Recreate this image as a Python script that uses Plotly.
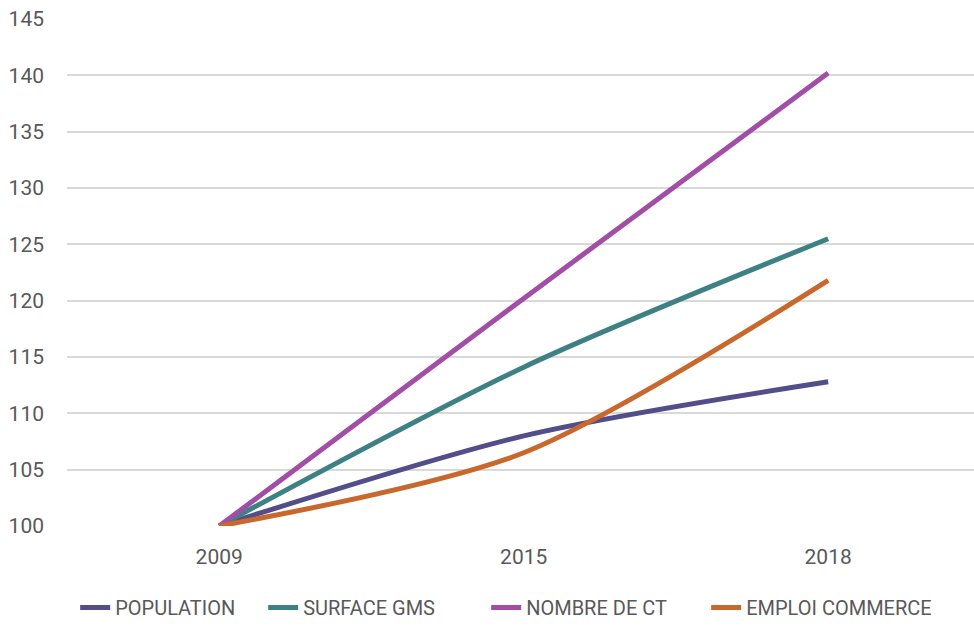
import plotly.graph_objects as go

years = ["2009", "2015", "2018"]
population = [100, 108.0, 112.8]
surface_gms = [100, 114.1, 125.5]
nombre_ct = [100, 120.2, 140.2]
emploi_commerce = [100, 106.5, 121.8]

series = [
    ("POPULATION", population, "#524E8A", 143),
    ("SURFACE GMS", surface_gms, "#3E8185", 178),
    ("NOMBRE DE CT", nombre_ct, "#A24EA6", 175),
    ("EMPLOI COMMERCE", emploi_commerce, "#C8682C", 180),
]

FONT = "Roboto, Liberation Sans Narrow, sans-serif"

fig = go.Figure()
for name, vals, col, lw in series:
    fig.add_trace(go.Scatter(
        x=years, y=vals, name=name, mode="lines", legendwidth=lw,
        line=dict(color=col, width=5, shape="spline", smoothing=0.8),
    ))

fig.update_layout(
    width=974, height=627,
    margin=dict(l=67, r=0, t=19, b=101),
    paper_bgcolor="white", plot_bgcolor="white",
    font=dict(family=FONT, size=21, color="#595959"),
    showlegend=True,
    legend=dict(orientation="h", x=0.009, xanchor="left", y=-0.2, yanchor="bottom",
                font=dict(size=20, color="#595959"), tracegroupgap=0),
    xaxis=dict(type="category", range=[-0.5, 2.479], showgrid=False, showline=False,
               ticks="", ticklabelstandoff=16, tickfont=dict(size=21, color="#595959")),
    yaxis=dict(range=[100, 145], dtick=5, tick0=100, showgrid=True, gridcolor="#D9D9D9",
               gridwidth=1.5, zeroline=False, showline=False, ticks="",
               ticklabelstandoff=22, tickfont=dict(size=21, color="#595959")),
)

fig.write_html("out.html")
